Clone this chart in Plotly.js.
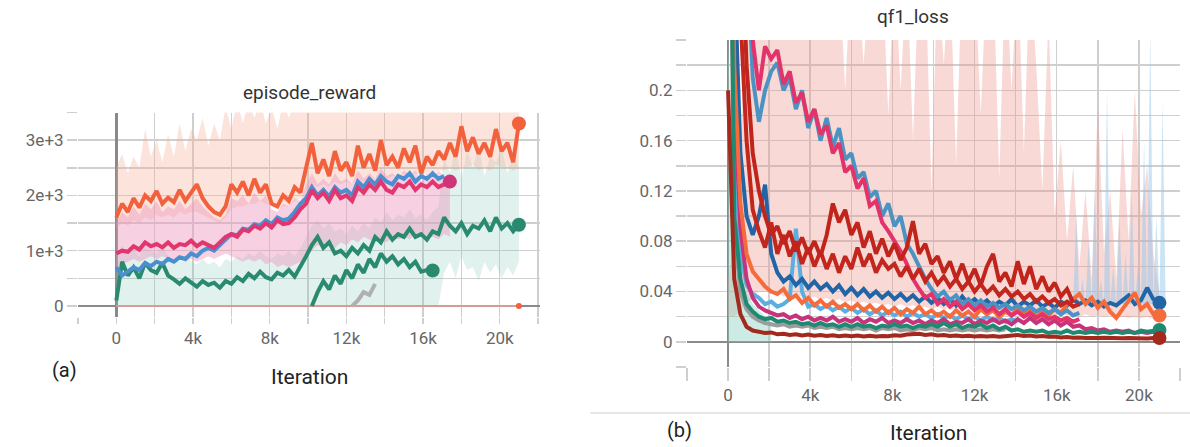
<!DOCTYPE html>
<html>
<head>
<meta charset="utf-8">
<script src="https://cdn.plot.ly/plotly-3.0.1.min.js"></script>
<style>html,body{margin:0;padding:0;background:#fff;}#chart{width:1190px;height:447px;}</style>
</head>
<body>
<div id="chart"></div>
<script>
// ---------- shared sampling ----------
const STEP = 300; // iterations between stored samples

// ---------- tick labels ----------
const xTickVals = [-2000, 0, 2000, 4000, 6000, 8000, 10000, 12000, 14000, 16000, 18000, 20000, 22000];
const xTickText = ['', '0', '', '4k', '', '8k', '', '12k', '', '16k', '', '20k', ''];
const aYTickVals = [0, 500, 1000, 1500, 2000, 2500, 3000, 3500];
const aYTickText = ['0', '', '1e+3', '', '2e+3', '', '3e+3', ''];
const bYTickVals = [-0.02, 0, 0.02, 0.04, 0.06, 0.08, 0.1, 0.12, 0.14, 0.16, 0.18, 0.2, 0.22, 0.24];
const bYTickText = ['', '0', '', '0.04', '', '0.08', '', '0.12', '', '0.16', '', '0.2', '', ''];

// ---------- (a) episode_reward : smoothed runs (start 0, step 300) ----------
const aOrange = [1600,1850,1700,1950,1780,2000,1900,2080,1850,1960,1880,2100,1900,2050,2200,1950,1800,1700,1650,1800,
  2200,2050,2250,2000,2300,2050,2200,1850,1800,2000,1900,2150,2050,2500,2950,2400,2650,2350,2800,2450,
  2600,2350,2900,2500,2750,2450,3000,2550,2700,2500,2850,2600,2900,2400,2700,2550,2800,2650,2950,2700,
  3250,2800,3050,2750,2950,2700,3200,2800,2950,2600,3300];
const aBlue = [700,550,620,700,650,780,720,800,760,850,800,880,850,950,900,1000,1050,1000,1100,1200,
  1300,1280,1400,1380,1480,1450,1550,1480,1600,1550,1580,1700,1850,1950,2150,2000,2100,1980,2150,2050,
  2100,2000,2250,2150,2300,2200,2350,2250,2200,2350,2300,2400,2250,2350,2300,2400,2300,2350];
const aPink = [950,1000,980,1080,1020,1150,1080,1120,1060,1150,1050,1120,1100,1180,1080,1150,1100,1050,1150,1250,
  1300,1250,1380,1350,1450,1400,1500,1420,1550,1480,1500,1600,1750,1850,2100,1950,2050,1900,2100,1950,
  2000,1900,2150,2050,2200,2100,2250,2100,2050,2200,2150,2250,2100,2200,2150,2250,2150,2200,2250];
const aGreen = [100,800,550,700,500,780,650,600,780,550,480,400,500,420,350,450,380,420,330,450,
  400,520,450,580,500,620,520,480,600,550,650,530,700,900,1100,1250,1050,1150,950,1000,
  900,1050,950,1100,1000,1250,1150,1350,1200,1300,1250,1400,1250,1300,1200,1350,1300,1600,1450,1350,
  1500,1300,1450,1400,1550,1350,1600,1400,1500,1350,1470];
const aGreen2Start = 10200;
const aGreen2 = [0,250,450,300,550,400,650,500,750,600,850,700,950,800,900,750,850,700,800,620,650,640];
const aGrayStart = 12300;
const aGray = [0,100,250,200,400];
const aFlatStep = 3000;
const aFlatRun = [0,0,0,0,0,0,0,0];

// ---------- (a) raw-data bands (start 0, step 300) ----------
const aSalmonHigh = [2500,2750,2400,2700,2500,3200,2700,3000,2600,3100,2700,3300,2800,3200,3000,3400,2900,3300,3000,3600,
  3200,3700,3300,3700,3400,3700,3300,3600,3200,3700,3400,3700,3500,3700,3700,3600,3700,3700,3600,3700,
  3700,3500,3700,3700,3600,3700,3700,3700,3600,3700,3700,3600,3700,3700,3700,3600,3700,3700,3700,3600,
  3700,3700,3700,3600,3700,3700,3700,3600,3700,3700,3600];
const aSalmonLow = [1400,1500,1450,1550,1500,1600,1550,1650,1600,1650,1600,1700,1650,1700,1700,1650,1600,1550,1500,1600,
  1750,1800,1800,1850,1850,1900,1850,1800,1750,1800,1800,1900,1950,2050,2200,2150,2200,2150,2250,2200,
  2250,2200,2300,2250,2350,2300,2350,2300,2350,2350,2400,2350,2400,2350,2400,2400,2450,2450,2500,2450,
  2500,2500,2550,2450,2500,2450,2550,2500,2500,2450,2500];
const aPinkHigh = [1500,1700,1600,1800,1650,1850,1750,1900,1700,1800,1750,1900,1750,1850,1950,1800,1700,1600,1550,1650,
  1950,1900,2000,1850,2050,1900,2000,1750,1700,1850,1800,1950,1900,2200,2400,2200,2300,2200,2400,2250,
  2300,2200,2450,2300,2400,2300,2500,2350,2400,2300,2450,2350,2450,2250,2400,2350,2450,2350,2300];
const aPinkLow = [700,750,800,850,800,850,900,850,900,850,800,850,800,850,800,850,900,850,900,950,
  900,850,800,850,800,850,750,800,700,750,700,750,800,900,1000,1100,1050,1100,1050,1150,
  1100,1200,1150,1250,1200,1150,1200,1150,1250,1200,1250,1200,1300,1250,1200,1250,1200,1300,1250];
const aTealHigh = [900,1100,950,1050,900,1100,1000,950,1100,900,850,800,900,800,750,850,750,800,700,850,
  800,900,850,950,900,1000,900,850,950,900,1000,900,1050,1250,1450,1550,1400,1500,1350,1400,
  1300,1450,1350,1500,1400,1600,1500,1700,1550,1650,1600,1750,1600,1650,1550,1700,1800,2700,2400,2900,
  2300,2800,2500,2900,2350,2700,2600,2850,2400,2750,2500];
const aTealLow = [0,0,0,0,0,0,0,0,0,0,0,0,0,0,0,0,0,0,0,0,
  0,0,0,0,0,0,0,0,0,0,0,0,0,0,0,0,0,0,0,0,
  0,0,0,0,0,0,0,0,0,0,0,0,0,0,0,0,0,600,800,500,
  900,650,700,450,800,600,750,500,700,550,800];

// ---------- (b) qf1_loss : smoothed runs (start 0, step 300) ----------
const bCrimson = [0.9,0.7,0.5,0.33,0.24,0.2,0.235,0.225,0.232,0.205,0.215,0.19,0.198,0.175,0.185,0.165,0.172,0.15,0.158,0.135,
  0.14,0.122,0.13,0.108,0.112,0.095,0.088,0.08,0.072,0.062,0.05,0.042,0.035,0.038,0.03,0.034,0.028,0.032,0.026,0.03,
  0.025,0.029,0.024,0.027,0.022,0.026,0.021,0.024,0.02,0.023,0.019,0.022,0.018,0.02,0.017,0.019,0.016,0.018];
const bSteel = [0.9,0.7,0.5,0.32,0.21,0.175,0.2,0.215,0.222,0.2,0.21,0.185,0.2,0.17,0.185,0.16,0.178,0.155,0.17,0.145,
  0.15,0.13,0.135,0.115,0.12,0.1,0.11,0.092,0.1,0.078,0.07,0.06,0.05,0.042,0.036,0.04,0.033,0.037,0.03,0.034,
  0.029,0.033,0.028,0.031,0.027,0.03,0.026,0.029,0.025,0.028,0.024,0.027,0.023,0.026,0.022,0.025,0.021,0.023];
const bRedA = [0.8,0.45,0.26,0.16,0.105,0.088,0.075,0.095,0.07,0.085,0.068,0.08,0.062,0.075,0.06,0.072,0.058,0.07,0.055,0.068,
  0.058,0.075,0.06,0.07,0.055,0.065,0.058,0.062,0.052,0.06,0.05,0.058,0.048,0.055,0.046,0.052,0.044,0.05,0.042,0.048,
  0.04,0.046,0.039,0.044,0.037,0.042,0.036,0.04,0.034,0.038,0.032,0.036,0.031,0.034,0.029,0.032,0.028,0.03];
const bRedB = [0.9,0.6,0.35,0.22,0.15,0.12,0.1,0.085,0.092,0.078,0.088,0.072,0.083,0.07,0.08,0.068,0.085,0.11,0.095,0.105,
  0.085,0.095,0.075,0.088,0.07,0.082,0.068,0.078,0.065,0.075,0.096,0.07,0.078,0.062,0.068,0.055,0.064,0.05,0.062,0.048,
  0.058,0.045,0.06,0.07,0.048,0.055,0.044,0.064,0.046,0.06,0.042,0.052,0.04,0.047,0.036,0.042,0.031];
const bOrange = [0.6,0.22,0.11,0.07,0.056,0.05,0.044,0.04,0.038,0.042,0.034,0.037,0.031,0.035,0.029,0.033,0.028,0.032,0.027,0.03,
  0.026,0.03,0.025,0.029,0.024,0.028,0.023,0.027,0.022,0.026,0.023,0.028,0.022,0.025,0.021,0.024,0.02,0.025,0.021,0.024,
  0.02,0.026,0.022,0.025,0.02,0.024,0.021,0.027,0.022,0.025,0.02,0.024,0.021,0.026,0.023,0.03,0.034,0.038,0.03,0.035,
  0.027,0.032,0.024,0.019,0.026,0.033,0.039,0.026,0.03,0.022,0.021];
const bDarkBlue = [0.7,0.3,0.15,0.1,0.085,0.1,0.125,0.07,0.055,0.048,0.052,0.045,0.05,0.043,0.048,0.042,0.046,0.04,0.045,0.038,
  0.043,0.037,0.042,0.036,0.04,0.035,0.039,0.034,0.038,0.033,0.037,0.032,0.036,0.031,0.035,0.03,0.034,0.029,0.036,0.03,
  0.034,0.029,0.033,0.028,0.032,0.029,0.034,0.028,0.032,0.029,0.033,0.028,0.031,0.027,0.032,0.029,0.034,0.03,0.033,0.029,
  0.032,0.028,0.031,0.029,0.033,0.037,0.03,0.033,0.043,0.034,0.031];
const bTeal = [0.6,0.1,0.05,0.03,0.024,0.02,0.018,0.019,0.016,0.017,0.015,0.016,0.014,0.015,0.013,0.015,0.013,0.014,0.012,0.014,
  0.012,0.014,0.012,0.013,0.011,0.013,0.012,0.014,0.012,0.013,0.011,0.013,0.012,0.014,0.012,0.015,0.012,0.014,0.011,0.013,
  0.012,0.014,0.011,0.013,0.01,0.012,0.009,0.01,0.008,0.009,0.008,0.009,0.007,0.008,0.007,0.009,0.007,0.008,0.007,0.008,
  0.007,0.008,0.007,0.008,0.007,0.008,0.007,0.009,0.008,0.009,0.0095];
const bMagenta = [0.5,0.2,0.09,0.05,0.035,0.028,0.025,0.023,0.021,0.022,0.019,0.021,0.018,0.02,0.017,0.019,0.017,0.02,0.016,0.018,
  0.016,0.019,0.015,0.018,0.016,0.019,0.015,0.017,0.015,0.018,0.015,0.017,0.014,0.017,0.015,0.018,0.014,0.016,0.015,0.018,
  0.014,0.017,0.015,0.018,0.015,0.017,0.014,0.018,0.015,0.019,0.015,0.018,0.014,0.017,0.013,0.016,0.012,0.013,0.01,0.011,
  0.009,0.01,0.008,0.009,0.008,0.009,0.007,0.008,0.007,0.008,0.007];
const bLightBlue = [0.6,0.15,0.07,0.045,0.038,0.035,0.03,0.032,0.028,0.03,0.034,0.09,0.04,0.028,0.03,0.026,0.029,0.025,0.028,0.024,
  0.027,0.023,0.026,0.022,0.025,0.021,0.024,0.021,0.024,0.02,0.023,0.02,0.022,0.019,0.022,0.019,0.021,0.018,0.021,0.018,
  0.02,0.017,0.02,0.017,0.019,0.016,0.018,0.016];
const bGray = [0.5,0.09,0.04,0.026,0.02,0.017,0.015,0.014,0.013,0.014,0.012,0.013,0.012,0.013,0.011,0.012,0.011,0.012,0.01,0.011,
  0.01,0.011,0.01,0.011,0.009,0.011,0.01,0.011,0.009,0.01,0.009,0.011,0.01,0.011,0.009,0.01,0.009,0.01,0.009,0.01,
  0.009,0.01,0.009,0.01,0.009,0.01];
const bBrown = [0.2,0.05,0.022,0.012,0.009,0.008,0.007,0.0075,0.006,0.0065,0.0055,0.006,0.005,0.0058,0.0048,0.0055,0.0047,0.0052,0.0045,0.005,
  0.0044,0.005,0.0043,0.0048,0.0042,0.0047,0.0045,0.0052,0.0048,0.0058,0.006,0.0065,0.0055,0.006,0.005,0.0055,0.0046,0.005,0.0044,0.0048,
  0.0042,0.0047,0.0043,0.0046,0.0041,0.0045,0.0048,0.0055,0.0046,0.005,0.0043,0.0047,0.004,0.0042,0.0035,0.0038,0.0032,0.0035,0.003,0.0034,
  0.003,0.0033,0.0029,0.0032,0.0028,0.0031,0.0028,0.003,0.0027,0.003,0.003];

// ---------- (b) raw-data bands ----------
const bSalmonHigh = [0.05,0.08,0.15,0.3,0.3,0.3,0.3,0.3,0.3,0.3,0.3,0.3,0.3,0.3,0.3,0.3,0.3,0.3,0.3,0.2,
  0.3,0.3,0.22,0.3,0.3,0.3,0.18,0.3,0.2,0.3,0.16,0.3,0.3,0.12,0.3,0.22,0.3,0.14,0.3,0.25,
  0.3,0.18,0.3,0.3,0.13,0.3,0.2,0.3,0.15,0.3,0.22,0.12,0.26,0.1,0.16,0.08,0.14,0.06,0.12,0.05,
  0.19,0.07,0.12,0.05,0.17,0.08,0.2,0.1,0.14,0.07,0.04];
const bSalmonLow = [0.02,0.02,0.025,0.03,0.035,0.04,0.04,0.038,0.04,0.036,0.038,0.035,0.037,0.034,0.036,0.033,0.035,0.032,0.034,0.031,
  0.033,0.03,0.032,0.03,0.031,0.029,0.03,0.028,0.03,0.028,0.029,0.027,0.028,0.026,0.028,0.026,0.027,0.025,0.027,0.025,
  0.026,0.024,0.026,0.024,0.025,0.023,0.025,0.023,0.024,0.022,0.024,0.022,0.023,0.021,0.023,0.021,0.022,0.02,0.022,0.02,
  0.021,0.02,0.021,0.019,0.02,0.019,0.02,0.019,0.02,0.018,0.018];
const bBlueRawStart = 16500;
const bBlueRawStep = 150;
const bBlueRawHigh = [0.03,0.04,0.03,0.1,0.03,0.05,0.03,0.08,0.03,0.12,0.03,0.05,0.03,0.2,0.03,0.06,
  0.03,0.1,0.03,0.07,0.03,0.12,0.03,0.06,0.03,0.16,0.03,0.25,0.03,0.1,0.03,0.19,0.03];
const bBlueRawLow = [0.03,0.03,0.03,0.03,0.03,0.03,0.03,0.03,0.03,0.03,0.03,0.03,0.03,0.03,0.03,0.03,
  0.03,0.03,0.03,0.03,0.03,0.03,0.03,0.03,0.03,0.03,0.03,0.03,0.03,0.03,0.03,0.03,0.03];
const bTealRawHigh = [0.25,0.06,0.045,0.04,0.03,0.025,0.02,0.015];
const bTealRawLow = [0,0,0,0,0,0,0,0];

// ---------- helpers ----------
const xs = (vals, start, step) => vals.map((_, i) => start + i * step);

function line(vals, color, ax, opts) {
  opts = opts || {};
  const start = opts.start || 0, step = opts.step || STEP;
  return {
    x: xs(vals, start, step), y: vals, type: 'scatter', mode: 'lines',
    line: {color: color, width: opts.width || 4},
    xaxis: ax[0], yaxis: ax[1], hoverinfo: 'skip', showlegend: false
  };
}
function endMarker(vals, color, ax, opts) {
  opts = opts || {};
  const start = opts.start || 0, step = opts.step || STEP;
  const x = xs(vals, start, step);
  return {
    x: [x[x.length - 1]], y: [vals[vals.length - 1]], type: 'scatter', mode: 'markers',
    marker: {color: color, size: opts.size || 14, line: {width: 0}},
    xaxis: ax[0], yaxis: ax[1], hoverinfo: 'skip', showlegend: false
  };
}
function band(low, high, fill, ax, opts) {
  opts = opts || {};
  const start = opts.start || 0, step = opts.step || STEP;
  const base = {type: 'scatter', mode: 'lines', line: {width: 0, color: 'rgba(0,0,0,0)'},
    xaxis: ax[0], yaxis: ax[1], hoverinfo: 'skip', showlegend: false};
  return [
    Object.assign({}, base, {x: xs(low, start, step), y: low}),
    Object.assign({}, base, {x: xs(high, start, step), y: high, fill: 'tonexty', fillcolor: fill})
  ];
}

const A = ['x', 'y'], B = ['x2', 'y2'];
const C = {
  orange: '#f2603c', blue: '#4a8fd0', pink: '#e2366f', green: '#2a8a70', gray: '#b0b0b0',
  crimson: '#e3336a', steel: '#4b93c2', red: '#c3261c', redB: '#c1241b', bOrange: '#f56b3b',
  dblue: '#2265a6', teal: '#1f8a71', magenta: '#c7347c', lblue: '#5aaee0', bgray: '#9c9c9c', brown: '#a4291d'
};

const traces = [];
// (a) bands
traces.push(...band(aTealLow, aTealHigh, 'rgba(140,205,190,0.26)', A));
traces.push(...band(aSalmonLow, aSalmonHigh, 'rgba(246,170,145,0.33)', A));
traces.push(...band(aPinkLow, aPinkHigh, 'rgba(238,150,190,0.45)', A));
// (a) lines
traces.push(line(aFlatRun, 'rgba(230,160,150,0.8)', A, {step: aFlatStep, width: 2}));
traces.push(line(aGray, C.gray, A, {start: aGrayStart}));
traces.push(line(aGreen2, C.green, A, {start: aGreen2Start}));
traces.push(line(aGreen, C.green, A));
traces.push(line(aBlue, C.blue, A));
traces.push(line(aPink, C.pink, A));
traces.push(line(aOrange, C.orange, A));
traces.push(endMarker(aGreen2, C.green, A, {start: aGreen2Start}));
traces.push(endMarker(aGreen, C.green, A));
traces.push(endMarker(aPink, '#d0357a', A));
traces.push(endMarker(aOrange, C.orange, A));
traces.push(endMarker(aFlatRun, C.orange, A, {step: aFlatStep, size: 6}));

// (b) bands
traces.push(...band(bSalmonLow, bSalmonHigh, 'rgba(236,150,140,0.36)', B));
traces.push(...band(bBlueRawLow, bBlueRawHigh, 'rgba(150,200,235,0.5)', B, {start: bBlueRawStart, step: bBlueRawStep}));
traces.push(...band(bTealRawLow, bTealRawHigh, 'rgba(140,210,195,0.45)', B));
// (b) lines
traces.push(line(bLightBlue, C.lblue, B));
traces.push(line(bGray, C.bgray, B));
traces.push(line(bMagenta, C.magenta, B));
traces.push(line(bDarkBlue, C.dblue, B));
traces.push(line(bOrange, C.bOrange, B));
traces.push(line(bSteel, C.steel, B));
traces.push(line(bCrimson, C.crimson, B));
traces.push(line(bRedA, C.red, B));
traces.push(line(bRedB, C.redB, B));
traces.push(line(bTeal, C.teal, B));
traces.push(line(bBrown, C.brown, B));
traces.push(endMarker(bDarkBlue, C.dblue, B));
traces.push(endMarker(bOrange, C.bOrange, B));
traces.push(endMarker(bTeal, C.teal, B));
traces.push(endMarker(bBrown, C.brown, B));

const tickFont = {family: 'Roboto, "Open Sans", sans-serif', size: 17, color: '#666'};
const gridCommon = {
  showgrid: true, gridcolor: '#cfcfcf', gridwidth: 1.5,
  zeroline: true, zerolinecolor: '#8a8a8a', zerolinewidth: 2.5,
  showline: false, ticks: 'outside', tickcolor: '#cfcfcf', tickwidth: 1.5,
  tickfont: tickFont, tickmode: 'array', fixedrange: true
};

const ann = (text, x, y, size, color) => ({text: text, x: x, y: y, xref: 'paper', yref: 'paper',
  xanchor: 'center', yanchor: 'middle', showarrow: false,
  font: {family: 'Roboto, sans-serif', size: size, color: color}});

const layout = {
  width: 1190, height: 447,
  margin: {l: 0, r: 0, t: 0, b: 0},
  paper_bgcolor: '#fff', plot_bgcolor: '#fff',
  showlegend: false,
  xaxis: Object.assign({}, gridCommon, {domain: [0.06555, 0.45378], range: [-2000, 22100],
    tickvals: xTickVals, ticktext: xTickText, ticklen: 6, anchor: 'y'}),
  yaxis: Object.assign({}, gridCommon, {domain: [0.29083, 0.74832], range: [-200, 3500],
    tickvals: aYTickVals, ticktext: aYTickText, ticklen: 10, anchor: 'x'}),
  xaxis2: Object.assign({}, gridCommon, {domain: [0.57731, 0.99160], range: [-2000, 22000],
    tickvals: xTickVals, ticktext: xTickText, ticklen: 13, anchor: 'y2'}),
  yaxis2: Object.assign({}, gridCommon, {domain: [0.17897, 0.91051], range: [-0.02, 0.24],
    tickvals: bYTickVals, ticktext: bYTickText, ticklen: 10, anchor: 'x2'}),
  annotations: [
    ann('episode_reward', 0.2605, 0.792, 19, '#333'),
    ann('qf1_loss', 0.767, 0.962, 19, '#333'),
    ann('Iteration', 0.2605, 0.1566, 21, '#222'),
    ann('Iteration', 0.78, 0.031, 21, '#222'),
    ann('(a)', 0.0546, 0.172, 20, '#222'),
    ann('(b)', 0.5714, 0.038, 20, '#222')
  ],
  shapes: [
    {type: 'line', xref: 'paper', yref: 'paper', x0: 0.496, x1: 1, y0: 0.076, y1: 0.076,
     line: {color: '#dedede', width: 1.5}}
  ]
};

Plotly.newPlot('chart', traces, layout, {staticPlot: true, displayModeBar: false});
</script>
</body>
</html>
